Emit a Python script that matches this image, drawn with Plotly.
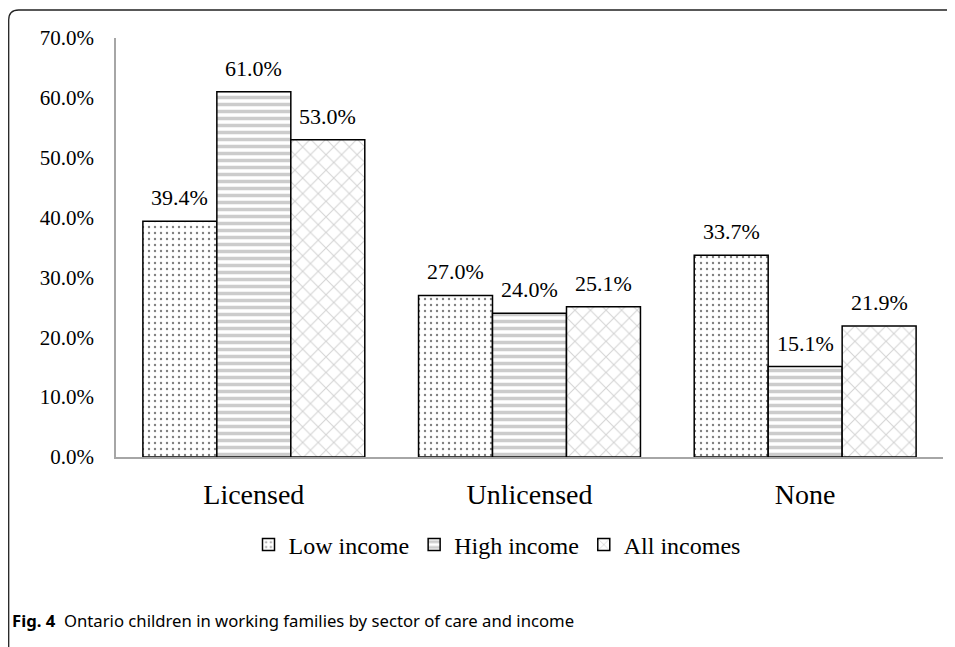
import plotly.graph_objects as go

categories = ["Licensed", "Unlicensed", "None"]
low_income = [39.4, 27.0, 33.7]
high_income = [61.0, 24.0, 15.1]
all_incomes = [53.0, 25.1, 21.9]
series_names = ["Low income", "High income", "All incomes"]
y_ticks = [0, 10, 20, 30, 40, 50, 60, 70]
caption_bold = "Fig. 4"
caption_text = "Ontario children in working families by sector of care and income"

# the page body has an 8px default margin, so the figure is drawn at (8, 8)
OFF = 8
W, H = 955 - OFF, 647 - OFF
L, R, T, B = 116 - OFF, 12, 38 - OFF, 190
pw, ph = W - L - R, H - T - B

def px_x(x):
    return (x - OFF - L) / pw

def px_y(y):
    return (H - B - (y - OFF)) / ph

SERIF = "Liberation Serif"
BARGAP = 0.195

patterns = [
    dict(shape=".", fgcolor="#000000", bgcolor="#ffffff", size=6, solidity=0.12),
    dict(shape="-", fgcolor="#9a9a9a", bgcolor="#ffffff", size=7, solidity=0.5),
    dict(shape="x", fgcolor="#a8a8a8", bgcolor="#ffffff", size=11, solidity=0.18),
]

all_series = [low_income, high_income, all_incomes]

fig = go.Figure()
for name, vals, pat in zip(series_names, all_series, patterns):
    fig.add_trace(go.Bar(
        x=categories, y=vals, name=name,
        marker=dict(color="#ffffff", pattern=pat, line=dict(color="#000000", width=1.5)),
        cliponaxis=False,
    ))

# value labels above each bar
bar_px = pw / len(categories) * (1 - BARGAP) / len(series_names)
for i, vals in enumerate(all_series):
    for cat, v in zip(categories, vals):
        fig.add_annotation(x=cat, y=v, xref="x", yref="y", text=f"{v:.1f}%",
                           showarrow=False, xanchor="center", yanchor="bottom",
                           xshift=(i - 1) * bar_px, yshift=9,
                           font=dict(family=SERIF, size=22, color="#000000"))

fig.update_layout(
    width=W, height=H,
    margin=dict(l=L, r=R, t=T, b=B),
    paper_bgcolor="#ffffff", plot_bgcolor="#ffffff",
    barmode="group", bargap=BARGAP, bargroupgap=0,
    font=dict(family=SERIF, color="#000000"),
    showlegend=True,
    legend=dict(orientation="h", x=px_x(497), xanchor="center", y=px_y(545), yanchor="middle",
                font=dict(family=SERIF, size=24, color="#000000"), itemwidth=30,
                bgcolor="rgba(0,0,0,0)"),
    xaxis=dict(showline=True, linecolor="#a6a6a6", linewidth=1.5, ticks="",
               tickfont=dict(family=SERIF, size=28), ticklabelstandoff=12, showgrid=False),
    yaxis=dict(range=[0, 70], tickvals=y_ticks, ticktext=[f"{v:.1f}%" for v in y_ticks],
               showline=True, linecolor="#a6a6a6", linewidth=1.5, ticks="", showgrid=False,
               zeroline=False, tickfont=dict(family=SERIF, size=21), ticklabelstandoff=16),
)

# journal figure frame (rounded top-left corner)
x0, yt = px_x(8.7), px_y(10)
xr, yb = px_x(980), px_y(680)
rx, ry = 10 / pw, 10 / ph
fig.add_shape(type="path", xref="paper", yref="paper",
              path=f"M {x0},{yb} L {x0},{yt - ry} Q {x0},{yt} {x0 + rx},{yt} L {xr},{yt}",
              line=dict(color="#222222", width=1.3))

fig.add_annotation(xref="paper", yref="paper", x=px_x(10), y=px_y(620), xanchor="left", yanchor="middle",
                   showarrow=False, align="left",
                   text=f"<b>{caption_bold}</b>  {caption_text}",
                   font=dict(family="Noto Sans", size=16.7, color="#000000"))

fig.write_html("out.html")
